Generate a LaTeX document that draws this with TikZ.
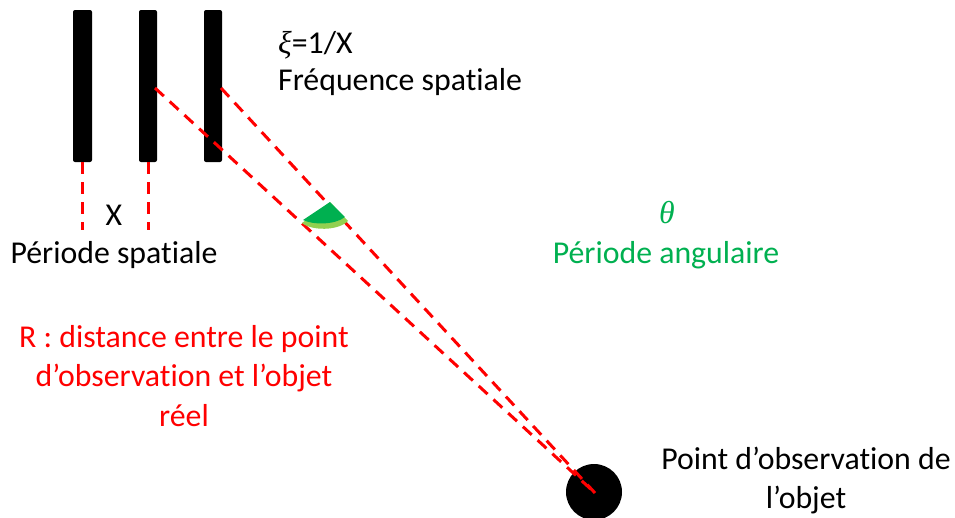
\documentclass[tikz,border=0pt]{standalone}
\usepackage{fontspec}
\setmainfont{Carlito}[Ligatures=NoCommon]
\newfontfamily\grk{Liberation Serif}
\definecolor{dgreen}{HTML}{00B050}
\definecolor{lgreen}{HTML}{92D050}
\definecolor{redline}{HTML}{FF0000}
\begin{document}
\begin{tikzpicture}[x=1pt,y=-1pt,
  bar/.style={fill=black,rounded corners=2pt},
  reddash/.style={draw=redline,line width=3pt,dash pattern=on 12pt off 8pt},
  txt/.style={inner sep=0pt,font=\fontsize{31.8}{38}\selectfont}]
\useasboundingbox (0,0) rectangle (955,517);
% bars
\fill[bar] (73,10) rectangle (92,162);
\fill[bar] (139,10) rectangle (157,162);
\fill[bar] (204,10) rectangle (222,162);
\coordinate (b1) at (82.5,162);
\coordinate (b1e) at (82.5,230);
\coordinate (b2) at (148,162);
\coordinate (b2e) at (148,230);
\coordinate (s1) at (155,88);
\coordinate (s2) at (221,88);
% observation point
\node[circle,fill=black,minimum size=56pt,inner sep=0pt] (obs) at (594,492) {};
\coordinate (p) at (595,493);
% dashed lines
\draw[reddash] (b1) -- (b1e);
\draw[reddash] (b2) -- (b2e);
\draw[reddash] (s1) -- (p);
\draw[reddash] (s2) -- (p);
% angle wedge
\fill[lgreen] (330,202) -- (302,223) .. controls (312,231) and (338,231) .. (348,221) -- cycle;
\fill[dgreen] (330,202) -- (303,220) .. controls (313,225) and (335,225) .. (345,217) -- cycle;
% texts
\node[txt,anchor=base west] (xi) at (278,53) {{\grk\itshape ξ}=1/X};
\node[txt,anchor=base west] (freq) at (278,90) {Fréquence spatiale};
\node[txt,anchor=base] (X) at (114,225) {X};
\node[txt,anchor=base] (pers) at (114,263) {Période spatiale};
\node[txt,anchor=base,text=dgreen] (theta) at (667,223) {{\grk\itshape θ}};
\node[txt,anchor=base,text=dgreen] (pera) at (666,263) {Période angulaire};
\node[txt,anchor=base,text=redline] (r1) at (184,347) {R : distance entre le point};
\node[txt,anchor=base,text=redline] (r2) at (184,386) {d’observation et l’objet};
\node[txt,anchor=base,text=redline] (r3) at (184,426) {réel};
\node[txt,anchor=base] (o1) at (806,469) {Point d’observation de};
\node[txt,anchor=base] (o2) at (806,508) {l’objet};
\end{tikzpicture}
\end{document}
